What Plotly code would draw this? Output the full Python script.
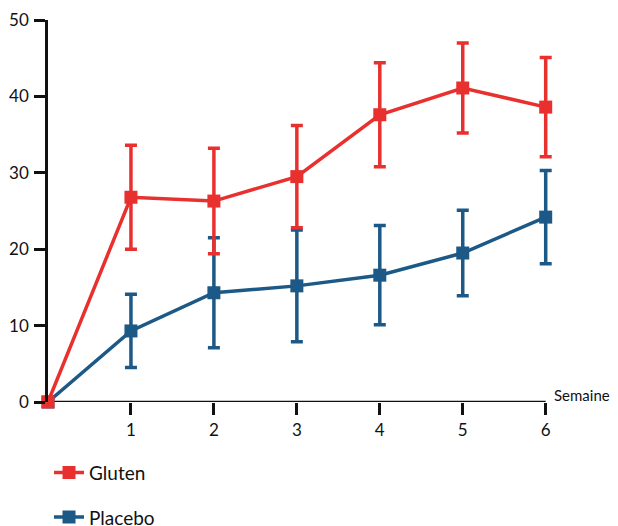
import plotly.graph_objects as go

semaines = [0, 1, 2, 3, 4, 5, 6]
gluten = [0, 26.8, 26.3, 29.5, 37.6, 41.1, 38.6]
gluten_err = [0, 6.8, 6.9, 6.7, 6.8, 5.9, 6.5]
placebo = [0, 9.3, 14.3, 15.2, 16.6, 19.5, 24.2]
placebo_err = [0, 4.8, 7.2, 7.3, 6.5, 5.6, 6.1]
x_ticks = [1, 2, 3, 4, 5, 6]
y_ticks = [0, 10, 20, 30, 40, 50]

RED = "#e8312f"
BLUE = "#1d5986"
INK = "#111111"
FONT = "Lato"

fig = go.Figure()
for name, vals, errs, col, rank in [
    ("Placebo", placebo, placebo_err, BLUE, 2),
    ("Gluten", gluten, gluten_err, RED, 1),
]:
    fig.add_trace(go.Scatter(
        x=semaines, y=vals, name=name, mode="lines+markers",
        line=dict(color=col, width=3.5),
        marker=dict(symbol="square", size=13, color=col),
        error_y=dict(type="data", array=errs, visible=True, color=col,
                     thickness=3.5, width=6),
        cliponaxis=False, legendgroup=name, legendrank=rank,
    ))

x_end = x_ticks[-1]
fig.add_shape(type="line", xref="x", yref="y", x0=0, x1=x_end, y0=0, y1=0,
              line=dict(color=INK, width=2.5), layer="below")

# page body has an 8px margin, so the figure is sized 8px smaller
fig.update_layout(
    width=610, height=518,
    margin=dict(l=40, r=64, t=12, b=124, autoexpand=False),
    plot_bgcolor="white", paper_bgcolor="white",
    font=dict(family=FONT, size=17, color=INK),
    showlegend=True,
    legend=dict(x=0.002, y=-0.135, xanchor="left", yanchor="top",
                traceorder="grouped", tracegroupgap=17,
                font=dict(size=19, family=FONT), bgcolor="rgba(0,0,0,0)"),
    xaxis=dict(range=[0, 6.1], tickvals=x_ticks, ticks="outside", ticklen=12,
               tickwidth=2.5, tickcolor=INK, showline=False,
               showgrid=False, zeroline=False,
               ticklabelstandoff=1, tickfont=dict(size=17)),
    yaxis=dict(range=[0, 50], tickvals=y_ticks, ticks="outside", ticklen=11,
               tickwidth=2.5, tickcolor=INK, showline=True, linecolor=INK,
               linewidth=2.5, showgrid=False, zeroline=False,
               ticklabelstandoff=2, tickfont=dict(size=17)),
    annotations=[dict(x=x_end, y=0, xref="x", yref="y", text="Semaine",
                      showarrow=False, xanchor="left", yanchor="middle",
                      xshift=6, yshift=7, font=dict(size=15, family=FONT))],
)

fig.write_html("out.html")
